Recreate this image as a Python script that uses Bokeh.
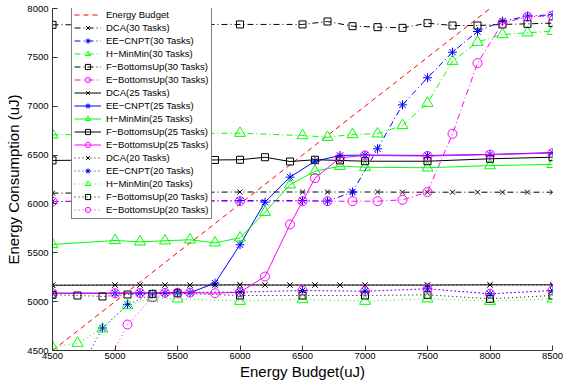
from bokeh.plotting import figure
from bokeh.models import Legend, LegendItem, Range1d, FixedTicker
from bokeh.embed import file_html
from bokeh.resources import INLINE

# ---------------- data ----------------
x_ticks = [4500, 5000, 5500, 6000, 6500, 7000, 7500, 8000, 8500]
y_ticks = [4500, 5000, 5500, 6000, 6500, 7000, 7500, 8000]

budget_x = [4500, 5000, 5500, 6000, 6500, 7000, 7500, 8000, 8500]
budget_y = [4500, 5000, 5500, 6000, 6500, 7000, 7500, 8000, 8500]

# 30 tasks
x30 = [4500, 5000, 5500, 6000, 6500, 6700, 6900, 7100, 7300, 7500, 7700, 7900, 8100, 8300, 8500]
dca30 = [6110, 6115, 6118, 6122, 6122, 6122, 6122, 6122, 6120, 6120, 6120, 6120, 6120, 6120, 6120]
ee30 = [6025, 6030, 6030, 6035, 6035, 6028, 6122, 6564, 7014, 7291, 7553, 7765, 7871, 7922, 7936]
hmin30 = [6707, 6715, 6720, 6724, 6700, 6683, 6711, 6718, 6803, 7031, 7461, 7656, 7734, 7752, 7768]
fbu30 = [7833, 7835, 7836, 7837, 7837, 7867, 7819, 7809, 7802, 7850, 7826, 7826, 7837, 7843, 7850]
ebu30 = [6025, 6028, 6028, 6028, 6028, 6028, 6028, 6028, 6042, 6122, 6718, 7441, 7850, 7915, 7926]

# 25 tasks
x25 = [4500, 5000, 5200, 5400, 5600, 5800, 6000, 6200, 6400, 6600, 6800, 7000, 7500, 8000, 8500]
dca25 = [5168, 5170, 5170, 5170, 5170, 5170, 5172, 5170, 5170, 5170, 5170, 5170, 5170, 5172, 5172]
ee25 = [5086, 5086, 5088, 5090, 5092, 5189, 5582, 6018, 6274, 6437, 6496, 6500, 6496, 6506, 6525]
hmin25 = [5585, 5626, 5612, 5623, 5633, 5602, 5653, 5915, 6196, 6335, 6386, 6376, 6370, 6392, 6405]
fbu25 = [6445, 6450, 6450, 6450, 6450, 6450, 6452, 6478, 6434, 6452, 6445, 6437, 6437, 6462, 6478]
ebu25 = [5086, 5086, 5088, 5090, 5092, 5086, 5097, 5257, 5790, 6264, 6472, 6496, 6490, 6505, 6520]

# 20 tasks
x20 = [4500, 4700, 4900, 5100, 5300, 5500, 6000, 6500, 7000, 7500, 8000, 8500]
x20_dca = [4500, 5000, 5200, 5400, 5600, 5800, 6000, 6200, 6400, 6600, 6800, 7000, 7500, 8000, 8500]
dca20 = [5168, 5170, 5170, 5170, 5170, 5170, 5172, 5170, 5170, 5170, 5170, 5170, 5170, 5172, 5172]
ee20 = [3800, 4250, 4730, 4970, 5080, 5097, 5097, 5114, 5107, 5131, 5080, 5114]
hmin20 = [4534, 4575, 4722, 4960, 5039, 5029, 5005, 5022, 5005, 5029, 5005, 5029]
fbu20 = [5070, 5063, 5053, 5073, 5080, 5086, 5063, 5063, 5063, 5070, 5029, 5063]
ebu20 = [3500, 3900, 4270, 4766, 5045, 5090, 5097, 5114, 5107, 5131, 5080, 5114]

# ---------------- figure ----------------
FONT = "Liberation Sans"
W, H = 563, 385
BL, BR, BT, BB = 52, 11, 8, 35
p = figure(width=W, height=H, output_backend="svg", toolbar_location=None,
           x_range=Range1d(4500, 8500), y_range=Range1d(4500, 8000),
           min_border_left=BL, min_border_right=BR, min_border_top=BT,
           min_border_bottom=BB)
p.outline_line_color = None
p.grid.visible = False
p.background_fill_color = "white"

for ax, ticks in ((p.xaxis[0], x_ticks), (p.yaxis[0], y_ticks)):
    ax.ticker = FixedTicker(ticks=ticks)
    ax.major_tick_in = 5
    ax.major_tick_out = 0
    ax.minor_tick_line_color = None
    ax.axis_line_color = "#333333"
    ax.major_tick_line_color = "#333333"
    ax.major_label_text_font = FONT
    ax.major_label_text_font_size = "9.5px"
    ax.major_label_text_color = "black"
    ax.axis_label_text_font = FONT
    ax.axis_label_text_font_size = "15px"
    ax.axis_label_text_font_style = "normal"
    ax.axis_label_text_color = "black"

p.xaxis.axis_label = "Energy Budget(uJ)"
p.yaxis.axis_label = "Energy Consumption (uJ)"
p.xaxis.major_label_standoff = 2
p.xaxis.axis_label_standoff = 1
p.yaxis.major_label_standoff = 4
p.yaxis.axis_label_standoff = 2

DASHDOT = "6 3 1 3"
DOTTED = "1 3"
SOLID = "solid"

items = []
r = p.line(budget_x, budget_y, line_color="#ff0000", line_dash="5 4", line_width=1)
items.append(LegendItem(label="Energy Budget", renderers=[r]))

M = "\u2212"
specs = [
    ("DCA(30 Tasks)", x30, dca30, "black", "x", 7, DASHDOT),
    ("EE" + M + "CNPT(30 Tasks)", x30, ee30, "#0000ff", "asterisk", 9, DASHDOT),
    ("H" + M + "MinMin(30 Tasks)", x30, hmin30, "#00ff00", "triangle", 11, DASHDOT),
    ("F" + M + "BottomsUp(30 Tasks)", x30, fbu30, "black", "square", 7, DASHDOT),
    ("E" + M + "BottomsUp(30 Tasks)", x30, ebu30, "#ff00ff", "circle", 9, DASHDOT),
    ("DCA(25 Tasks)", x25, dca25, "black", "x", 7, SOLID),
    ("EE" + M + "CNPT(25 Tasks)", x25, ee25, "#0000ff", "asterisk", 9, SOLID),
    ("H" + M + "MinMin(25 Tasks)", x25, hmin25, "#00ff00", "triangle", 11, SOLID),
    ("F" + M + "BottomsUp(25 Tasks)", x25, fbu25, "black", "square", 7, SOLID),
    ("E" + M + "BottomsUp(25 Tasks)", x25, ebu25, "#ff00ff", "circle", 9, SOLID),
    ("DCA(20 Tasks)", x20_dca, dca20, "black", "x", 7, DOTTED),
    ("EE" + M + "CNPT(20 Tasks)", x20, ee20, "#0000ff", "asterisk", 9, DOTTED),
    ("H" + M + "MinMin(20 Tasks)", x20, hmin20, "#00ff00", "triangle", 11, DOTTED),
    ("F" + M + "BottomsUp(20 Tasks)", x20, fbu20, "black", "square", 7, DOTTED),
    ("E" + M + "BottomsUp(20 Tasks)", x20, ebu20, "#ff00ff", "circle", 9, DOTTED),
]

for label, xs, ys, color, marker, size, dash in specs:
    lr = p.line(xs, ys, line_color=color, line_dash=dash, line_width=1)
    sr = p.scatter(xs, ys, marker=marker, size=size, line_color=color,
                   fill_color=None, line_width=1)
    items.append(LegendItem(label=label, renderers=[lr, sr]))

# legend bottom edge ~131 px above the frame bottom
legend = Legend(items=items, location=(19, 131))
legend.label_text_font = FONT
legend.label_text_font_size = "9.5px"
legend.label_text_color = "black"
legend.label_height = 13
legend.glyph_height = 13
legend.glyph_width = 27
legend.spacing = 0
legend.padding = 2
legend.margin = 0
legend.label_standoff = 5
legend.border_line_color = "black"
legend.border_line_width = 1.5
legend.background_fill_color = "white"
legend.background_fill_alpha = 1.0
p.add_layout(legend, "center")

open("out.html", "w").write(file_html(p, INLINE))
